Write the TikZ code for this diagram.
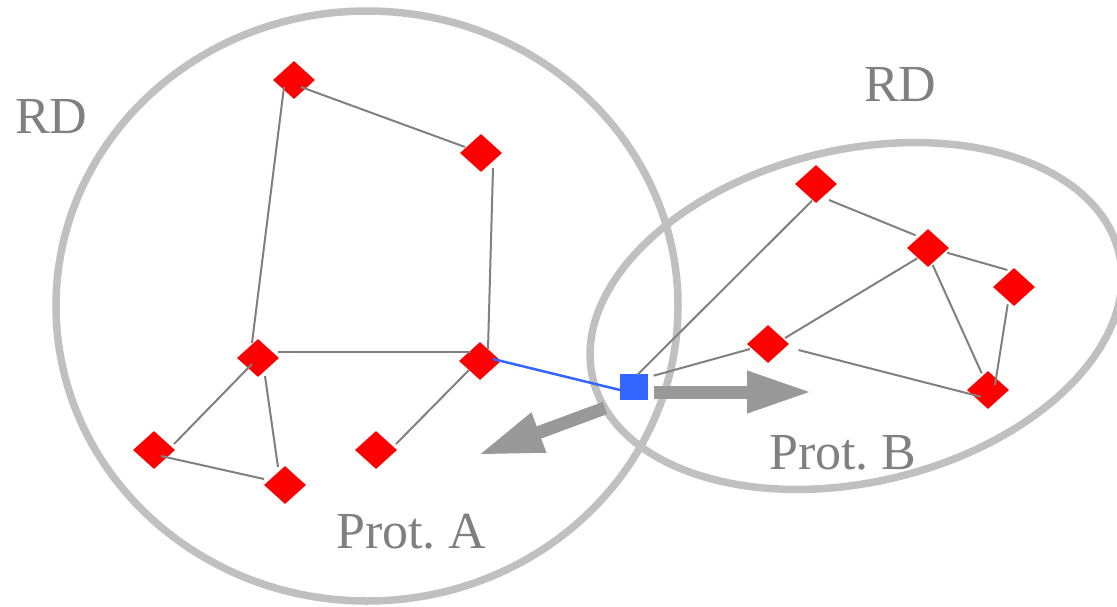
\documentclass[tikz,border=0pt]{standalone}
\usepackage{fontspec}
\setmainfont{LiberationSerif-Regular.ttf}
\usetikzlibrary{shapes.geometric,arrows.meta}

\definecolor{ringgray}{HTML}{C0C0C0}
\definecolor{edgegray}{HTML}{808080}
\definecolor{arrowgray}{HTML}{999999}
\definecolor{nodered}{HTML}{FF0000}
\definecolor{nodeblue}{HTML}{3366FF}
\definecolor{textgray}{HTML}{808080}

\begin{document}
\frenchspacing
\begin{tikzpicture}[x=1pt,y=-1pt,
  ring/.style={draw=ringgray,line width=7.5pt},
  res/.style={diamond,fill=nodered,inner sep=0pt,minimum width=42pt,minimum height=38pt},
  iface/.style={rectangle,fill=nodeblue,inner sep=0pt,minimum width=28pt,minimum height=26pt},
  link/.style={draw=edgegray,line width=2pt},
  xlink/.style={draw=nodeblue,line width=2.5pt},
  bigarrow/.style={draw=arrowgray,line width=13pt,-{Triangle[length=65pt,width=39pt]}},
  lbl/.style={text=textgray,font=\fontsize{52}{60}\selectfont,inner sep=0pt,anchor=base west}
]
\useasboundingbox (0,0) rectangle (1117,606);

% domains
\draw[ring] (367,306) ellipse [x radius=311pt, y radius=295pt];
\draw[ring,rotate around={13.4:(856,316)}] (856,316) ellipse [x radius=270.5pt, y radius=166.2pt];

% protein A residues
\node[res] (A1) at (294,80) {};
\node[res] (A2) at (481,153) {};
\node[res] (A3) at (258,358) {};
\node[res] (A4) at (480,361) {};
\node[res] (A5) at (154,450) {};
\node[res] (A6) at (285,485) {};
\node[res] (A7) at (376,450) {};

% protein B residues
\node[res] (B1) at (816,184) {};
\node[res] (B2) at (928,248) {};
\node[res] (B3) at (1014,287) {};
\node[res] (B4) at (768,344) {};
\node[res] (B5) at (988,390) {};

% interface residue
\node[iface] (S) at (634,387) {};

% edges of protein A
\draw[link] ([shift={(7,7)}]A1.center) -- ([shift={(-16,-6)}]A2.center);
\draw[link] ([shift={(-10,7)}]A1.center) -- ([shift={(-6,-15)}]A3.center);
\draw[link] ([shift={(12,15)}]A2.center) -- ([shift={(8,-12)}]A4.center);
\draw[link] ([shift={(20,-6)}]A3.center) -- ([shift={(-9,-9)}]A4.center);
\draw[link] ([shift={(-6,6)}]A3.center) -- ([shift={(20,-6)}]A5.center);
\draw[link] ([shift={(7,18)}]A3.center) -- ([shift={(-7,-18)}]A6.center);
\draw[link] ([shift={(7,6)}]A5.center) -- ([shift={(-21,-6)}]A6.center);
\draw[link] ([shift={(-11,9)}]A4.center) -- ([shift={(20,-6)}]A7.center);

% edges of protein B
\draw[link] ([shift={(3.5,-12.3)}]S.center) -- ([shift={(-4,16.7)}]B1.center);
\draw[link] ([shift={(13,16)}]B1.center) -- ([shift={(-12.4,-12.7)}]B2.center);
\draw[link] ([shift={(19,4.7)}]B2.center) -- ([shift={(-6.6,-17)}]B3.center);
\draw[link] ([shift={(-10.7,10.3)}]B2.center) -- ([shift={(17,-6)}]B4.center);
\draw[link] ([shift={(4.7,17)}]B2.center) -- ([shift={(-6.3,-16.7)}]B5.center);
\draw[link] ([shift={(-6.3,17.3)}]B3.center) -- ([shift={(7,-5)}]B5.center);
\draw[link] ([shift={(19.6,-11.3)}]S.center) -- ([shift={(-18,5)}]B4.center);
\draw[link] ([shift={(30.5,6)}]B4.center) -- ([shift={(-7.3,6.7)}]B5.center);

% cross link
\draw[xlink] ([shift={(13,-2)}]A4.center) -- ([shift={(-14,3)}]S.center);

% arrows
\coordinate (rs) at (653.5,392);
\coordinate (re) at (812,392);
\coordinate (ls) at (605,408);
\coordinate (le) at (478,455);
\draw[bigarrow] (rs) -- (re);
\draw[bigarrow] (ls) -- (le);

% labels
\node[lbl] (rdA) at (15,133) {RD};
\node[lbl] (rdB) at (864,101) {RD};
\node[lbl] (pA) at (336,548) {Prot. A};
\node[lbl] (pB) at (769,469) {Prot. B};
\end{tikzpicture}
\end{document}
